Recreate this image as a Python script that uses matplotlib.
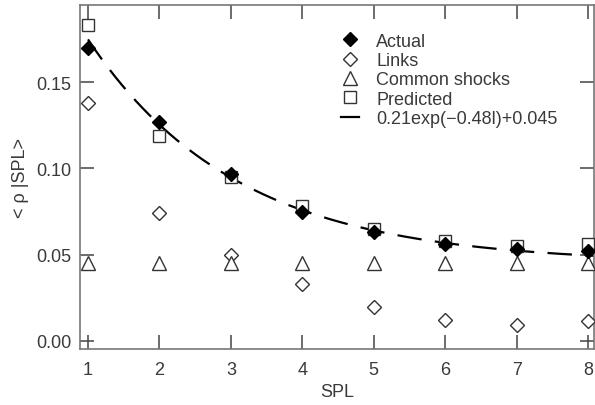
import numpy as np
import matplotlib
matplotlib.use("Agg")
import matplotlib.pyplot as plt
from matplotlib.lines import Line2D

plt.rcParams['font.family'] = ['Liberation Sans', 'DejaVu Sans']

spl = [1, 2, 3, 4, 5, 6, 7, 8]
actual = [0.170, 0.127, 0.097, 0.075, 0.063, 0.056, 0.053, 0.052]
links = [0.138, 0.074, 0.050, 0.033, 0.0195, 0.012, 0.009, 0.0115]
common_shocks = [0.045, 0.045, 0.045, 0.045, 0.045, 0.045, 0.045, 0.045]
predicted = [0.183, 0.119, 0.095, 0.078, 0.065, 0.058, 0.055, 0.056]

fit_a, fit_b, fit_c = 0.21, 0.48, 0.045
fit_label = "0.21exp(\u22120.48l)+0.045"

xticks = [1, 2, 3, 4, 5, 6, 7, 8]
yticks = [0.00, 0.05, 0.10, 0.15]
ytick_labels = ["0.00", "0.05", "0.10", "0.15"]

text_col = "#3a3a3a"
fs = 13

fig = plt.figure(figsize=(5.95, 4.06), dpi=100)
ax = fig.add_axes([80 / 595, 1 - 350 / 406, 514 / 595, 344 / 406])

l_fit = np.linspace(1.0, 8.1, 300)
ax.plot(l_fit, fit_a * np.exp(-fit_b * l_fit) + fit_c,
        color="black", lw=1.6, dashes=(11, 6), zorder=2)

h_act, = ax.plot(spl, actual, 'D', ms=7.5, mfc="black", mec="black", lw=0, zorder=4)
h_lnk, = ax.plot(spl, links, 'D', ms=7.5, mfc="white", mec="#333333", mew=1.0, lw=0, zorder=3)
h_cs, = ax.plot(spl, common_shocks, '^', ms=10, mfc="white", mec="#333333", mew=1.0, lw=0, zorder=3)
h_pr, = ax.plot(spl, predicted, 's', ms=9, mfc="white", mec="#333333", mew=1.0, lw=0, zorder=3)

# the fit entry in the legend is a short solid stroke
fit_handle = Line2D([], [], color="black", lw=1.6)

leg = ax.legend([h_act, h_lnk, h_cs, h_pr, fit_handle],
                ["Actual", "Links", "Common shocks", "Predicted", fit_label],
                loc="upper left", bbox_to_anchor=(0.508, 0.92),
                frameon=False, fontsize=fs, borderpad=0, borderaxespad=0,
                handlelength=1.0, handletextpad=0.95, labelspacing=0.13)
for t in leg.get_texts():
    t.set_color(text_col)

ax.set_xlim(0.888, 8.084)
ax.set_ylim(-0.0048, 0.1949)
ax.set_xticks(xticks)
ax.set_yticks(yticks)
ax.set_yticklabels(ytick_labels)

ax.tick_params(axis="both", direction="in", length=10, width=1.1, color="#444444",
               labelsize=fs, labelcolor=text_col, top=True, right=True)
ax.tick_params(axis="x", pad=9)
ax.tick_params(axis="y", pad=6)

for s in ax.spines.values():
    s.set_color("#777777")
    s.set_linewidth(1.2)

ax.set_xlabel("SPL", fontsize=fs, color=text_col, labelpad=3)
ax.set_ylabel("< \u03c1 |SPL>", fontsize=fs, color=text_col, labelpad=5)

fig.savefig("out.png", dpi=100)
